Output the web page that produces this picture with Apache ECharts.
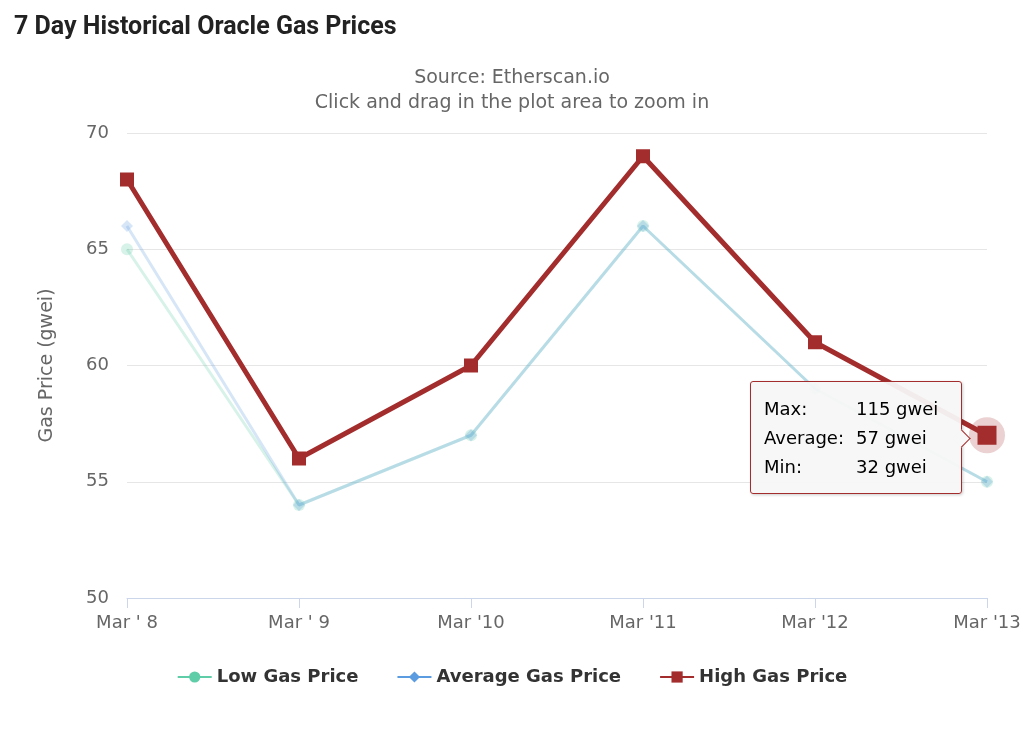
<!DOCTYPE html>
<html>
<head>
<meta charset="utf-8">
<script src="https://cdn.jsdelivr.net/npm/echarts@6/dist/echarts.min.js"></script>
<style>
html,body{margin:0;padding:0;background:#fff;}
#chart{width:1024px;height:738px;}
</style>
</head>
<body>
<div id="chart"></div>
<script>
var categories = ["Mar ' 8", "Mar ' 9", "Mar '10", "Mar '11", "Mar '12", "Mar '13"];
var lowPrice = [65, 54, 57, 66, 59, 55];
var avgPrice = [66, 54, 57, 66, 59, 55];
var highPrice = [68, 56, 60, 69, 61, 57];
var tipMax = [null, null, null, null, null, 115];
var tipAvg = [null, null, null, null, null, 57];
var tipMin = [null, null, null, null, null, 32];
var yTicks = [50, 55, 60, 65, 70];

var chart = echarts.init(document.getElementById('chart'), null, {renderer: 'canvas'});
var FONT = '"DejaVu Sans", "Noto Sans", sans-serif';

var option = {
  animation: false,
  backgroundColor: '#fff',
  title: [
    {
      text: '7 Day Historical Oracle Gas Prices',
      left: 9, top: 10,
      textStyle: {fontFamily: 'Roboto, sans-serif', fontWeight: 'bold', fontSize: 25, color: '#222'}
    },
    {
      text: 'Source: Etherscan.io',
      left: 'center', top: 64,
      textStyle: {fontFamily: FONT, fontWeight: 'normal', fontSize: 19, color: '#666'}
    },
    {
      text: 'Click and drag in the plot area to zoom in',
      left: 'center', top: 89,
      textStyle: {fontFamily: FONT, fontWeight: 'normal', fontSize: 19, color: '#666'}
    }
  ],
  grid: {left: 127, right: 37, top: 133, bottom: 140, containLabel: false},
  tooltip: {
    trigger: 'item',
    alwaysShowContent: true,
    triggerOn: 'none',
    position: function () { return [750, 381]; },
    backgroundColor: 'rgba(247,247,247,0.95)',
    borderColor: '#a32d2d',
    borderWidth: 1,
    padding: [12, 14, 12, 13],
    extraCssText: 'border-radius:3px;box-shadow:1px 1px 3px rgba(0,0,0,0.2);width:183px;overflow:visible;',
    textStyle: {fontFamily: FONT, fontSize: 18, color: '#000'},
    formatter: function (p) {
      var i = p.dataIndex;
      return '<div style="position:absolute;right:-7px;top:50%;width:12px;height:12px;margin-top:-6px;background:#f7f7f7;border-right:1px solid #a32d2d;border-top:1px solid #a32d2d;transform:rotate(45deg);"></div>' +
        '<table style="border-collapse:collapse;font-size:18px;line-height:27px;color:#000;font-family:DejaVu Sans,sans-serif">' +
        '<tr><td style="padding:0;width:91px">Max:</td><td>' + tipMax[i] + ' gwei</td></tr>' +
        '<tr><td style="padding:0">Average:</td><td>' + tipAvg[i] + ' gwei</td></tr>' +
        '<tr><td style="padding:0">Min:</td><td>' + tipMin[i] + ' gwei</td></tr></table>';
    }
  },
  legend: {
    bottom: 47,
    left: 'center',
    itemGap: 38,
    itemWidth: 34,
    itemHeight: 14,
    textStyle: {fontFamily: FONT, fontSize: 18, fontWeight: 'bold', color: '#333'},
    data: [
      {name: 'Low Gas Price', itemStyle: {opacity: 1}, lineStyle: {opacity: 1}},
      {name: 'Average Gas Price', itemStyle: {opacity: 1}, lineStyle: {opacity: 1}},
      {name: 'High Gas Price', itemStyle: {opacity: 1}, lineStyle: {opacity: 1}}
    ]
  },
  xAxis: {
    type: 'category',
    data: categories,
    boundaryGap: false,
    axisLine: {lineStyle: {color: '#ccd6eb', width: 1}},
    axisTick: {show: true, length: 10, lineStyle: {color: '#ccd6eb'}, alignWithLabel: true},
    axisLabel: {fontFamily: FONT, fontSize: 18, color: '#666', margin: 16},
    splitLine: {show: false}
  },
  yAxis: {
    type: 'value',
    min: 50, max: 70, interval: 5,
    name: 'Gas Price (gwei)',
    nameLocation: 'middle',
    nameGap: 70,
    nameTextStyle: {fontFamily: FONT, fontSize: 19, color: '#666'},
    axisLine: {show: false},
    axisTick: {show: false},
    axisLabel: {fontFamily: FONT, fontSize: 18, color: '#666', margin: 18,
      formatter: function (v) { return yTicks.indexOf(v) >= 0 ? String(v) : ''; }},
    splitLine: {lineStyle: {color: '#e6e6e6', width: 1}}
  },
  series: [
    {
      name: 'Low Gas Price',
      type: 'line',
      data: lowPrice,
      color: '#5ecda8',
      symbol: 'circle',
      symbolSize: 12,
      lineStyle: {width: 3, opacity: 0.25},
      itemStyle: {opacity: 0.25},
      z: 2
    },
    {
      name: 'Average Gas Price',
      type: 'line',
      data: avgPrice,
      color: '#5b9be0',
      symbol: 'diamond',
      symbolSize: 12,
      lineStyle: {width: 3, opacity: 0.25},
      itemStyle: {opacity: 0.25},
      z: 3
    },
    {
      name: 'High Gas Price',
      type: 'line',
      data: highPrice,
      color: '#a32d2d',
      symbol: 'rect',
      symbolSize: function (v, p) { return p.dataIndex === 5 ? 19 : 14; },
      lineStyle: {width: 5},
      z: 4,
      markPoint: {
        symbol: 'circle',
        symbolSize: 36,
        silent: true,
        itemStyle: {color: 'rgba(163,45,45,0.22)'},
        label: {show: false},
        data: [{coord: [5, highPrice[5]]}],
        z: 1
      }
    }
  ]
};
chart.setOption(option);
setTimeout(function () {
  chart.dispatchAction({type: 'showTip', seriesIndex: 2, dataIndex: 5});
}, 50);
</script>
</body>
</html>
